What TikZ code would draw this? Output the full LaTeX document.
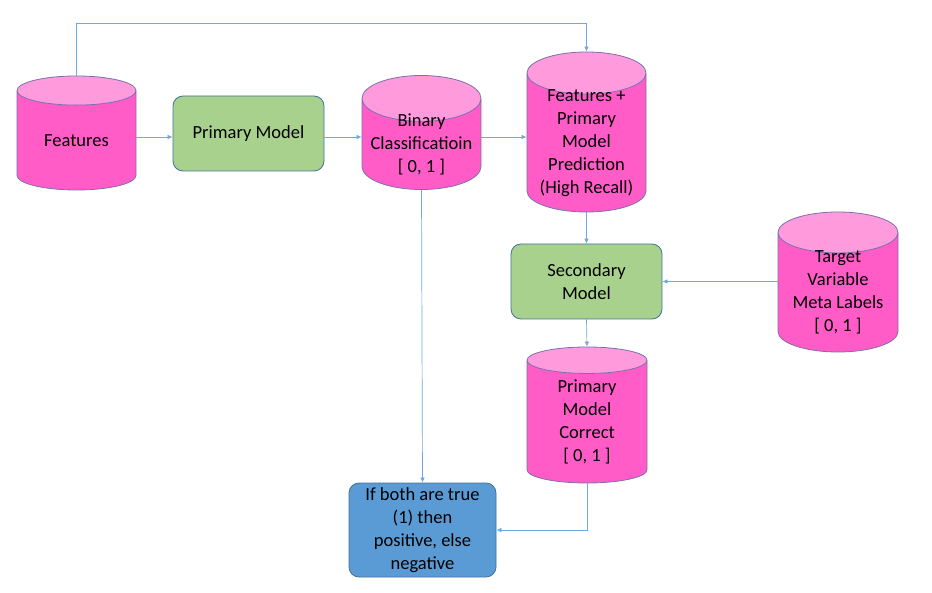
\documentclass[tikz,border=0pt]{standalone}
\usepackage{fontspec}
\setmainfont{Carlito}
\usetikzlibrary{shapes.geometric,arrows.meta}

\definecolor{dbbody}{HTML}{FF5CC8}
\definecolor{dbtop}{HTML}{FF9BDD}
\definecolor{dbline}{HTML}{7B6FAF}
\definecolor{modelgreen}{HTML}{A9D18E}
\definecolor{resultblue}{HTML}{5B9BD5}
\definecolor{boxline}{HTML}{41719C}
\definecolor{linkblue}{HTML}{6FA8DC}

\begin{document}
\begin{tikzpicture}[x=1pt,y=-1pt,
      store/.style={cylinder, shape border rotate=90, aspect=0.45, draw=dbline,
        cylinder uses custom fill, cylinder body fill=dbbody, cylinder end fill=dbtop,
        align=center, inner xsep=0pt, inner ysep=-20pt, line width=0.8pt, anchor=shape center,
        font=\fontsize{18.5}{23}\selectfont},
      model/.style={rectangle, rounded corners=10pt, draw=boxline, fill=modelgreen,
        align=center, line width=0.8pt, font=\fontsize{18.5}{23}\selectfont},
      link/.style={-{Latex[length=5pt,width=4.5pt]}, draw=linkblue, line width=0.7pt}
      ]
      \useasboundingbox (0,0) rectangle (932,593);

      % data stores
      \node[store, minimum width=119pt, minimum height=114pt] (feat) at (76.5,133) {Features};
      \node[store, minimum width=119pt, minimum height=114pt] (bin) at (421.5,132.5) {Binary\\Classificatioin\\{[} 0, 1 ]};
      \node[store, minimum width=119pt, minimum height=160pt] (featp) at (586.5,132) {Features +\\Primary\\Model\\Prediction\\(High Recall)};
      \node[store, minimum width=120pt, minimum height=140pt] (targ) at (838,282) {Target\\Variable\\Meta Labels\\{[} 0, 1 ]};
      \node[store, minimum width=120pt, minimum height=136pt] (corr) at (587,415) {Primary\\Model\\Correct\\{[} 0, 1 ]};

      % models
      \node[model, minimum width=151pt, minimum height=75pt] (prim) at (248.5,133.5) {Primary Model};
      \node[model, minimum width=151pt, minimum height=75pt] (sec) at (586.5,281.5) {Secondary\\Model};
      \node[model, fill=resultblue, minimum width=147pt, minimum height=94pt] (res) at (422.5,530) {If both are true\\(1) then\\positive, else\\negative};

      \coordinate (top) at (0,23);
      \coordinate (row) at (0,137);

      \draw[link] (feat.north) -- (feat.north |- top) -| (featp.north);
      \draw[link] (feat.east |- row) -- (prim.west |- row);
      \draw[link] (prim.east |- row) -- (bin.west |- row);
      \draw[link] (bin.east |- row) -- (featp.west |- row);
      \draw[link] (featp.south) -- (sec.north);
      \draw[link] (targ.west |- sec.east) -- (sec.east);
      \draw[link] (sec.south) -- (corr.north);
      \draw[link] (bin.south) -- (res.north);
      \draw[link] (corr.south) |- (res.east);
\end{tikzpicture}
\end{document}
